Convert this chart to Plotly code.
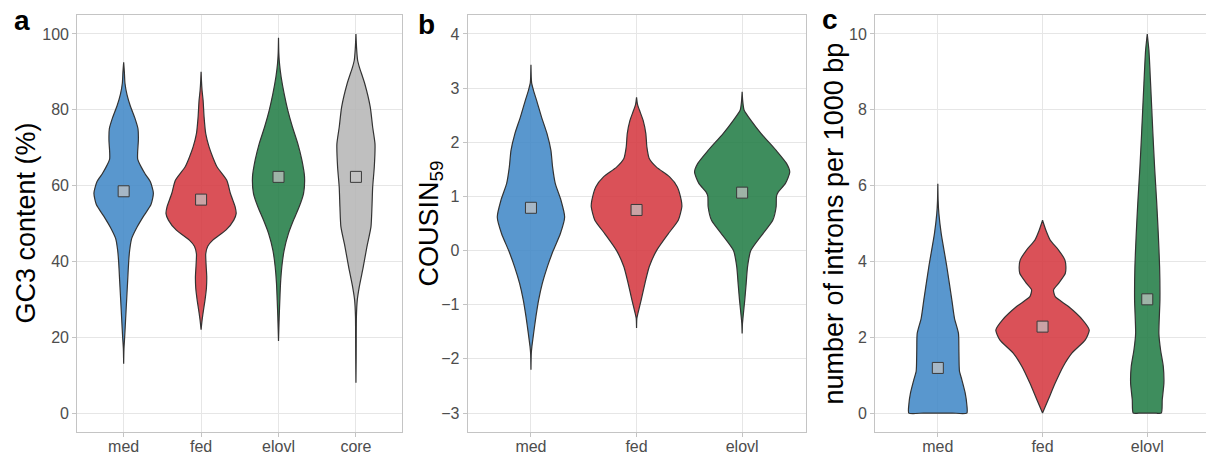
import plotly.graph_objects as go

W, H = 1206, 455

# ---------------- data ----------------
gc3_categories = ["med", "fed", "elovl", "core"]
cousin_categories = ["med", "fed", "elovl"]
intron_categories = ["med", "fed", "elovl"]

gc3_ticks = [0, 20, 40, 60, 80, 100]
cousin_ticks = [-3, -2, -1, 0, 1, 2, 3, 4]
intron_ticks = [0, 2, 4, 6, 8, 10]

# violin outlines: value levels and half-widths (category units)
gc3_med_y = [13, 17, 20, 25, 30, 35, 40, 43, 46, 49, 52, 55, 58, 61, 63, 65, 67, 69, 72, 75, 78, 81, 84, 87, 90, 92.5]
gc3_med_w = [0, .004, .013, .026, .039, .052, .065, .078, .103, .172, .259, .353, .384, .345, .28, .224, .181, .181, .19, .185, .142, .086, .043, .017, .009, 0]
gc3_fed_y = [22, 24.5, 27, 30, 33, 36, 39, 42, 44, 45.6, 48.3, 50.9, 52.6, 54.4, 57.9, 61.4, 64.9, 67.5, 70.2, 73.7, 78, 82.5, 85, 88, 90]
gc3_fed_w = [0, .013, .03, .052, .069, .073, .065, .06, .086, .151, .323, .422, .453, .44, .379, .332, .207, .151, .103, .06, .039, .026, .013, .004, 0]
gc3_elovl_y = [19, 25.4, 29.8, 34.2, 38.6, 43, 47.4, 50.9, 54.4, 57.9, 62.3, 66.7, 71, 75.4, 79.8, 84.2, 88.6, 92.1, 95, 99]
gc3_elovl_w = [0, .009, .017, .026, .043, .073, .129, .194, .267, .323, .336, .302, .25, .181, .121, .073, .034, .013, .004, 0]
gc3_core_y = [8, 15, 20, 25.4, 29.8, 33.3, 38.6, 43.9, 49.1, 54.4, 59.6, 64.9, 71, 75.4, 80.7, 86.8, 91.2, 93, 96, 100]
gc3_core_w = [0, .003, .004, .006, .017, .043, .095, .142, .194, .207, .216, .237, .246, .216, .185, .115, .045, .022, .009, 0]
gc3_medians = [58.5, 56.3, 62.3, 62.3]

cousin_med_y = [-2.2, -1.9, -1.77, -1.53, -1.22, -0.91, -0.61, -0.3, 0, 0.31, 0.62, 0.93, 1.24, 1.54, 1.85, 2.16, 2.46, 2.77, 2.95, 3.1, 3.43]
cousin_med_w = [0, .003, .009, .025, .047, .073, .107, .155, .211, .278, .319, .284, .23, .205, .189, .152, .101, .054, .025, .006, 0]
cousin_fed_y = [-1.43, -1.25, -1.16, -0.91, -0.61, -0.3, 0, 0.31, 0.56, 0.81, 0.93, 1.18, 1.36, 1.54, 1.7, 1.91, 2.16, 2.4, 2.59, 2.7, 2.83]
cousin_fed_w = [0, .003, .013, .044, .079, .12, .189, .3, .395, .429, .423, .385, .313, .189, .12, .098, .088, .063, .028, .009, 0]
cousin_elovl_y = [-1.53, -1.35, -1.22, -0.91, -0.61, -0.3, 0, 0.31, 0.56, 0.81, 1.0, 1.08, 1.24, 1.45, 1.61, 1.85, 2.16, 2.4, 2.59, 2.75, 2.93]
cousin_elovl_w = [0, .003, .009, .025, .038, .051, .082, .196, .29, .322, .325, .341, .41, .451, .42, .322, .18, .085, .019, .006, 0]
cousin_medians = [0.79, 0.75, 1.07]

intron_med_y = [0, 0.22, 0.53, 0.88, 1.1, 1.23, 1.67, 2.1, 2.5, 2.98, 3.86, 4.74, 5.26, 5.6, 6.05]
intron_med_w = [.277, .277, .261, .229, .207, .204, .201, .197, .159, .134, .086, .032, .01, .003, 0]
intron_fed_y = [0, 0.35, 0.79, 1.23, 1.58, 1.93, 2.19, 2.46, 2.81, 3.07, 3.25, 3.42, 3.68, 3.86, 4.04, 4.3, 4.56, 4.82, 5.0, 5.09]
intron_fed_w = [0, .054, .121, .197, .28, .408, .446, .382, .248, .121, .105, .153, .217, .223, .213, .153, .073, .032, .01, 0]
intron_elovl_y = [0, 0.35, 0.79, 1.23, 1.67, 2.1, 2.98, 3.86, 4.74, 5.61, 6.49, 7.37, 8.68, 9.56, 10]
intron_elovl_w = [.134, .143, .159, .153, .127, .111, .121, .118, .105, .089, .07, .054, .032, .016, 0]
intron_medians = [1.19, 2.28, 3.0]

# ---------------- style ----------------
fills = {"med": "rgba(62,134,198,0.86)", "fed": "rgba(212,52,60,0.86)",
         "elovl": "rgba(30,122,66,0.86)", "core": "rgba(180,180,180,0.86)"}
FONT = "Liberation Sans, Arial, sans-serif"
GRID = "#e6e6e6"
BORDER = "#c4c4c4"
TICKC = "#4d4d4d"


def X(px):
    return px / W


def Y(px):
    return 1 - px / H


fig = go.Figure()

panels = [
    dict(ax="", cats=gc3_categories, ticks=gc3_ticks, rng=[-5, 105], xr=[0.4, 4.6], dom=[77.2, 402.4],
         violins=[(gc3_med_y, gc3_med_w), (gc3_fed_y, gc3_fed_w), (gc3_elovl_y, gc3_elovl_w), (gc3_core_y, gc3_core_w)],
         medians=gc3_medians, right=True),
    dict(ax="2", cats=cousin_categories, ticks=cousin_ticks, rng=[-3.35, 4.35], xr=[0.4, 3.6], dom=[467.6, 805.5],
         violins=[(cousin_med_y, cousin_med_w), (cousin_fed_y, cousin_fed_w), (cousin_elovl_y, cousin_elovl_w)],
         medians=cousin_medians, right=True),
    dict(ax="3", cats=intron_categories, ticks=intron_ticks, rng=[-0.5, 10.5], xr=[0.4, 3.561], dom=[875, 1206],
         violins=[(intron_med_y, intron_med_w), (intron_fed_y, intron_fed_w), (intron_elovl_y, intron_elovl_w)],
         medians=intron_medians, right=False),
]

for p in panels:
    xa, ya = "x" + p["ax"], "y" + p["ax"]
    for i, (cat, (vy, vw)) in enumerate(zip(p["cats"], p["violins"])):
        c = i + 1
        xs = [c + w for w in vw] + [c - w for w in reversed(vw)]
        ys = list(vy) + list(reversed(vy))
        if vw[0] > 0:
            xs = xs + [c - vw[0] / 2, c, c + vw[0] / 2, c + vw[0]]
            ys = ys + [vy[0]] * 4
        else:
            xs.append(xs[0])
            ys.append(ys[0])
        fig.add_trace(go.Scatter(x=xs, y=ys, xaxis=xa, yaxis=ya, mode="lines", fill="toself",
                                 fillcolor=fills[cat], line=dict(color="#333333", width=1.2, shape="spline", smoothing=0.6),
                                 hoverinfo="skip", showlegend=False))
    fig.add_trace(go.Scatter(x=list(range(1, len(p["cats"]) + 1)), y=p["medians"], xaxis=xa, yaxis=ya,
                             mode="markers", marker=dict(symbol="square", size=11, color="rgba(195,195,195,0.72)",
                                                         line=dict(color="#3a3a3a", width=1)),
                             hoverinfo="skip", showlegend=False))

layout = dict(width=W, height=H, margin=dict(l=0, r=0, t=0, b=0, autoexpand=False), paper_bgcolor="white",
              plot_bgcolor="white", font=dict(family=FONT), showlegend=False)

for p in panels:
    k = p["ax"]
    layout["xaxis" + k] = dict(domain=[X(p["dom"][0]), X(p["dom"][1])], range=p["xr"], anchor="y" + k,
                               tickvals=list(range(1, len(p["cats"]) + 1)), ticktext=p["cats"],
                               showgrid=True, gridcolor=GRID, gridwidth=1, zeroline=False, automargin=False,
                               showline=True, linecolor=BORDER, linewidth=1, mirror=True,
                               ticks="outside", ticklen=4, tickcolor=BORDER, ticklabelstandoff=-4,
                               tickfont=dict(size=16, color=TICKC, family=FONT))
    layout["yaxis" + k] = dict(domain=[Y(432), Y(15)], range=p["rng"], anchor="x" + k,
                               tickvals=p["ticks"], showgrid=True, gridcolor=GRID, gridwidth=1, zeroline=False,
                               automargin=False,
                               showline=True, linecolor=BORDER, linewidth=1, mirror=p["right"],
                               ticks="outside", ticklen=4, tickcolor=BORDER,
                               tickfont=dict(size=16, color=TICKC, family=FONT))

fig.update_layout(**layout)

ann = []
for txt, xc in [("GC3 content (%)", 25), ("COUSIN<sub>59</sub>", 430), ("number of introns per 1000 bp", 833)]:
    ann.append(dict(text=txt, x=X(xc), y=Y(223.5), xref="paper", yref="paper", xanchor="center", yanchor="middle",
                    textangle=-90, showarrow=False, font=dict(size=27, color="black", family=FONT)))
for txt, xl, yc in [("a", 12, 20.5), ("b", 416, 24.5), ("c", 820, 20)]:
    ann.append(dict(text="<b>%s</b>" % txt, x=X(xl), y=Y(yc), xref="paper", yref="paper", xanchor="left",
                    yanchor="middle", showarrow=False, font=dict(size=28, color="black", family=FONT)))
fig.update_layout(annotations=ann)

fig.write_html("out.html")
